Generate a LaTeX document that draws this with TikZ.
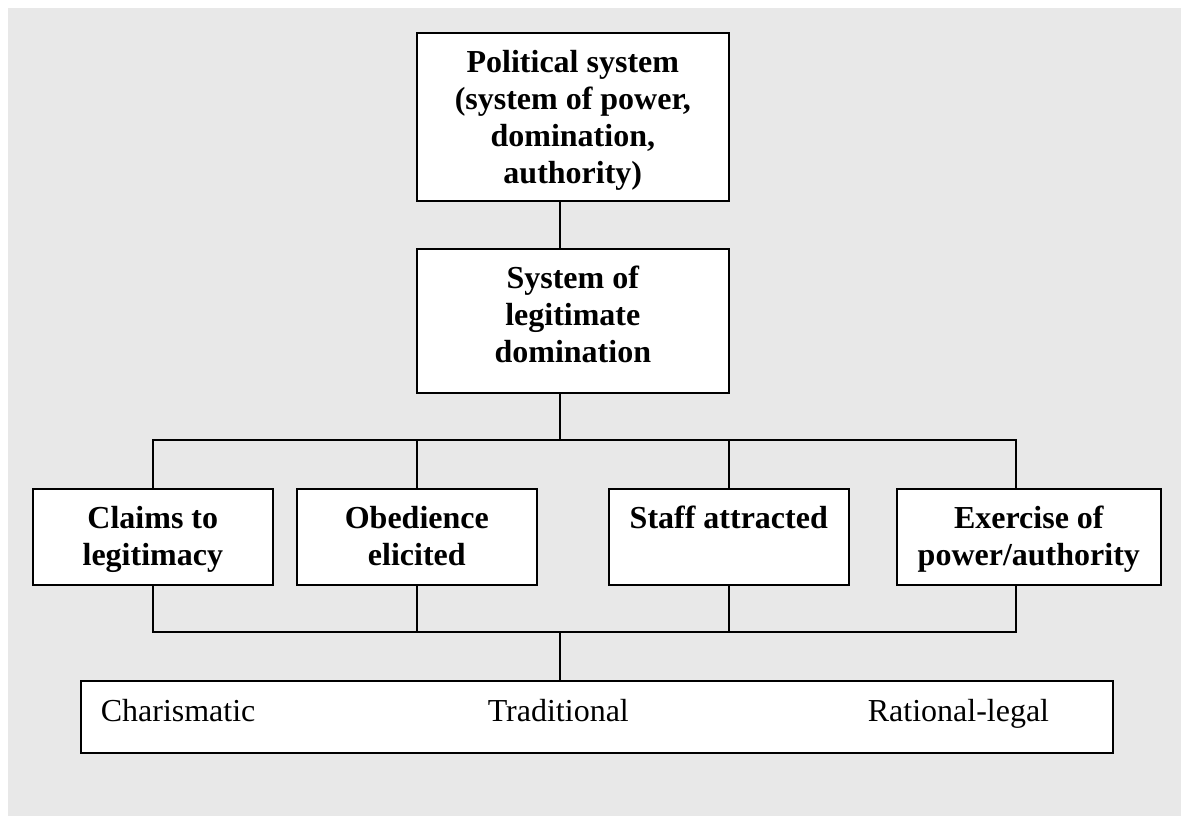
\documentclass[tikz,border=0pt]{standalone}
\usepackage{fontspec}
\setmainfont{Liberation Serif}

\definecolor{panelgray}{RGB}{232,232,232}

\tikzset{
    box/.style={draw=black, line width=.8pt, fill=white, inner sep=0pt,
        align=flush center, text height=20pt,
        font=\bfseries\fontsize{16}{18.4}\selectfont},
    link/.style={line width=.8pt},
}

\begin{document}
\begin{tikzpicture}[x=.5pt, y=-.5pt]
    \newcommand\rowtop{488}
\newcommand\rowdepth{28pt}

\useasboundingbox (0, 0) rectangle (1181, 816);
\fill[panelgray] (8, 8) rectangle (1181, 816);

\node[box, anchor=north west, text width=156pt, text depth=64pt]
    (political) at (416, 32)
    {Political system\\(system of power,\\domination,\\authority)};

\node[box, anchor=north west, text width=156pt, text depth=52pt]
    (legitimate) at (416, 248) {System of\\legitimate\\domination};

\node[box, anchor=north west, text width=120pt, text depth=\rowdepth]
    (claims) at (32, \rowtop) {Claims to\\legitimacy};
\node[box, anchor=north west, text width=120pt, text depth=\rowdepth]
    (obedience) at (296, \rowtop) {Obedience\\elicited};
\node[box, anchor=north west, text width=120pt, text depth=\rowdepth]
    (staff) at (608, \rowtop) {Staff attracted};
\node[box, anchor=north west, text width=132pt, text depth=\rowdepth]
    (exercise) at (896, \rowtop) {Exercise of\\power/authority};

\node[box, anchor=north west, align=flush left, inner xsep=10pt,
    text width=496pt, text height=20.5pt, text depth=15.5pt,
    font=\fontsize{16}{18.4}\selectfont]
    (types) at (80, 680)
    {\makebox[193.5pt][l]{Charismatic}\makebox[190pt][l]{Traditional}Rational-legal};

\coordinate (spine) at (560, 0);
\coordinate (upper-bus) at (0, 440);
\coordinate (lower-bus) at (0, 632);
\coordinate (exercise-drop) at (1016, 0);

\draw[link] (political.south -| spine) -- (legitimate.north -| spine);
\draw[link] (legitimate.south -| spine) -- (upper-bus -| spine);
\draw[link] (lower-bus -| spine) -- (types.north -| spine);

\draw[link] (claims.north) |- (upper-bus -| exercise-drop)
    -- (exercise.north -| exercise-drop);
\draw[link] (claims.south) |- (lower-bus -| exercise-drop)
    -- (exercise.south -| exercise-drop);

\foreach \n in {obedience, staff} {
    \draw[link] (upper-bus -| \n.north) -- (\n.north);
    \draw[link] (\n.south) -- (lower-bus -| \n.south);
}
\end{tikzpicture}
\end{document}
